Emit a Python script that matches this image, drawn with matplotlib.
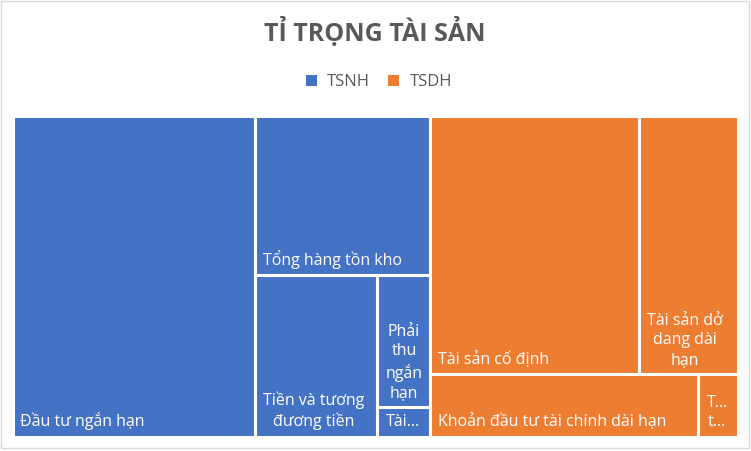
import matplotlib
matplotlib.use('Agg')
import matplotlib.pyplot as plt
from matplotlib.patches import Rectangle, Patch

plt.rcParams['font.family'] = ['Open Sans', 'DejaVu Sans']

# groups (parents of the treemap)
groups = ['TSNH', 'TSDH']
group_colors = ['#4472C4', '#ED7D31']

# short-term assets (% of total)
tsnh_names = ['Đầu tư ngắn hạn', 'Tổng hàng tồn kho', 'Tiền và tương đương tiền',
              'Phải thu ngắn hạn', 'Tài sản ngắn hạn khác']
tsnh_labels = ['Đầu tư ngắn hạn', 'Tổng hàng tồn kho', 'Tiền và tương\nđương tiền',
               'Phải\nthu\nngắn\nhạn', 'Tài…']
tsnh_values = [33.45, 11.97, 8.50, 2.97, 0.66]

# long-term assets (% of total)
tsdh_names = ['Tài sản cố định', 'Tài sản dở dang dài hạn',
              'Khoản đầu tư tài chính dài hạn', 'Tài sản dài hạn khác']
tsdh_labels = ['Tài sản cố định', 'Tài sản dở\ndang dài\nhạn',
               'Khoản đầu tư tài chính dài hạn', 'T…\nt…']
tsdh_values = [23.19, 10.98, 7.22, 1.05]


def worst(row, length):
    thick = sum(row) / length
    return max(max(thick * thick / v, v / (thick * thick)) for v in row)


def squarify(values, x, y, w, h, tol=3.0):
    # squarified layout, y grows downwards
    scale = w * h / sum(values)
    vals = [v * scale for v in values]
    rects = []
    while vals:
        if len(vals) == 1:
            rects.append((x, y, w, h))
            break
        length = min(w, h)
        row = [vals[0]]
        for v in vals[1:]:
            new = row + [v]
            if worst(new, length) <= max(worst(row, length), tol):
                row = new
            else:
                break
        vals = vals[len(row):]
        s = sum(row)
        if w >= h:
            cw = s / h
            yy = y
            for v in row:
                rects.append((x, yy, cw, v / cw))
                yy += v / cw
            x += cw
            w -= cw
        else:
            rh = s / w
            xx = x
            for v in row:
                rects.append((xx, y, v / rh, rh))
                xx += v / rh
            y += rh
            h -= rh
    return rects


fig = plt.figure(figsize=(7.51, 4.51), dpi=100)

# chart border
fig.patches.append(Rectangle((1 / 751, 3 / 451), 748 / 751, 447 / 451,
                             transform=fig.transFigure, fill=False,
                             edgecolor='#D9D9D9', lw=1))

W, H = 725.0, 321.0
ax = fig.add_axes([12.5 / 751, (451 - 436.5) / 451, W / 751, H / 451])
ax.set_xlim(0, W)
ax.set_ylim(H, 0)
ax.axis('off')

group_values = [sum(tsnh_values), sum(tsdh_values)]
group_rects = squarify(group_values, 0, 0, W, H)

children = [(tsnh_values, tsnh_labels), (tsdh_values, tsdh_labels)]
for (gx, gy, gw, gh), color, (vals, labels) in zip(group_rects, group_colors, children):
    for (x, y, w, h), lab in zip(squarify(vals, gx, gy, gw, gh), labels):
        ax.add_patch(Rectangle((x, y), w, h, facecolor=color,
                               edgecolor='white', lw=2.2))
        ax.text(x + 8, y + h - 6, lab, color='white', fontsize=11.5,
                ha='left', va='bottom', multialignment='center',
                linespacing=1.3)

fig.text(375 / 751, 1 - 32 / 451, 'TỈ TRỌNG TÀI SẢN', ha='center', va='center',
         fontsize=18, fontweight='bold', color='#595959')

handles = [Patch(facecolor=c, edgecolor='none') for c in group_colors]
fig.legend(handles, groups, loc='center', bbox_to_anchor=(379 / 751, 1 - 82 / 451),
           ncol=2, frameon=False, fontsize=12, labelcolor='#595959',
           handlelength=0.66, handleheight=0.66, handletextpad=0.6,
           columnspacing=1.1)

fig.savefig('out.png', dpi=100)
